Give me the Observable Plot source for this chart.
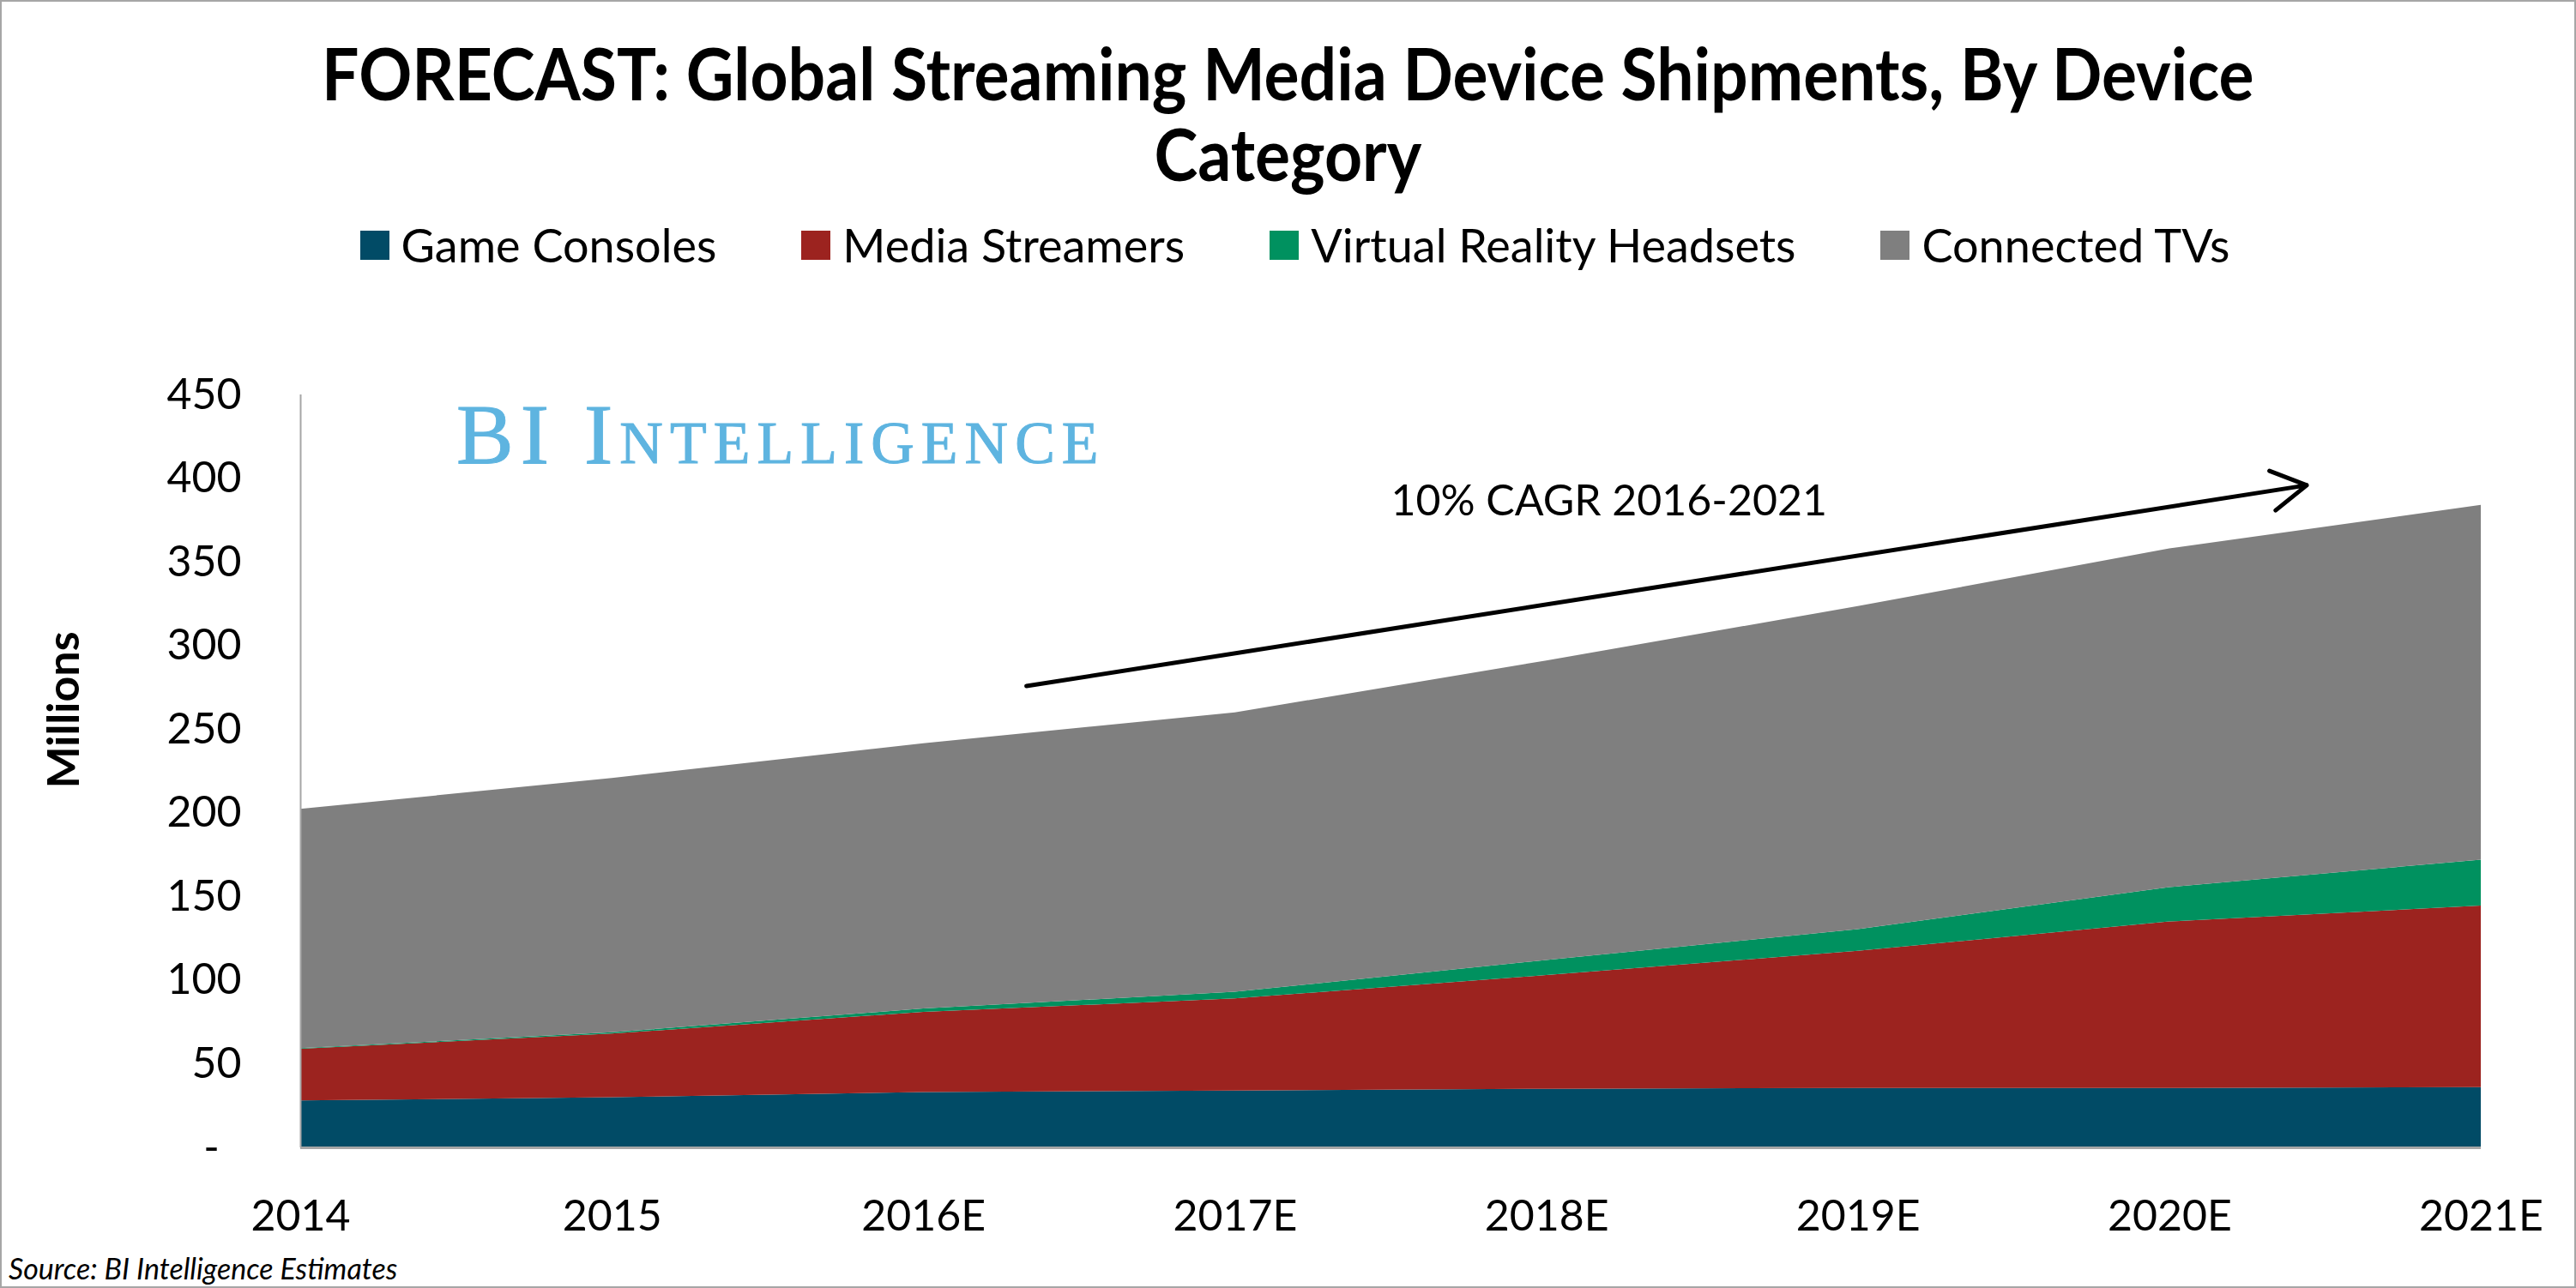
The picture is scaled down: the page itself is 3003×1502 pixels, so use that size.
<!DOCTYPE html>
<html>
<head>
<meta charset="utf-8">
<script src="https://cdn.jsdelivr.net/npm/d3@7"></script>
<script src="https://cdn.jsdelivr.net/npm/@observablehq/plot@0.6"></script>
<style>
  html, body { margin: 0; padding: 0; background: #fff; }
  #chart { position: relative; width: 3003px; height: 1502px; overflow: hidden; background: #fff; font-family: Lato, "Open Sans", sans-serif; }
  #title { position: absolute; top: 38px; left: 0; width: 3003px; text-align: center; font-weight: 700; font-size: 84px; line-height: 94px; color: #000; transform: scaleX(0.915); transform-origin: 1500px 0; }
  #legend { position: absolute; top: 253px; left: 0; width: 3003px; display: flex; justify-content: center; align-items: center; gap: 99px; font-size: 54px; color: #000; padding-left: 16px; box-sizing: border-box; }
  #legend .item { display: flex; align-items: center; gap: 14px; }
  #legend .sw { width: 34px; height: 34px; display: inline-block; }
  #plot { position: absolute; top: 400px; left: 0; }
  #ylabel { position: absolute; left: 72px; top: 828px; transform: translate(-50%, -50%) rotate(-90deg); font-weight: 700; font-size: 52px; white-space: nowrap; }
  #source { position: absolute; left: 10px; top: 1458px; font-style: italic; font-size: 34px; color: #000; }
  #frame { position: absolute; inset: 0; border: 2px solid #a6a6a6; pointer-events: none; }
</style>
</head>
<body>
<div id="chart">
  <div id="title">FORECAST: Global Streaming Media Device Shipments, By Device<br>Category</div>
  <div id="legend"></div>
  <div id="plot"></div>
  <div id="ylabel">Millions</div>
  <div id="source">Source: BI Intelligence Estimates</div>
  <div id="frame"></div>
</div>
<script>
// ---- data ----
const years = ["2014", "2015", "2016E", "2017E", "2018E", "2019E", "2020E", "2021E"];
const seriesNames = ["Game Consoles", "Media Streamers", "Virtual Reality Headsets", "Connected TVs"];
const seriesColors = ["#014b66", "#9c231f", "#00915f", "#7f7f7f"];
const gameConsoles   = [28, 30, 33, 34, 35, 35.5, 35.5, 36];
const mediaStreamers = [31, 38, 48, 55, 68, 82, 99.5, 108.5];
const vrHeadsets     = [0.3, 0.8, 2, 4, 9, 13, 20.5, 27.5];
const connectedTVs   = [143, 152, 158.5, 167, 179, 193, 202.5, 212];
const yTicks = [0, 50, 100, 150, 200, 250, 300, 350, 400, 450];
// annotation (in data units: x = year index, y = millions)
const arrowData = [{x1: 2.33, y1: 276, x2: 6.44, y2: 396}];
const cagrNote = [{x: 4.2, y: 386, text: "10% CAGR 2016-2021"}];
const logoNote = [{x: 0.5, y: 409, text: "BI Intelligence"}];

const seriesValues = [gameConsoles, mediaStreamers, vrHeadsets, connectedTVs];
const rows = [];
seriesNames.forEach((s, si) => {
  years.forEach((yr, i) => rows.push({i, year: yr, series: s, value: seriesValues[si][i]}));
});

// ---- legend ----
const legend = document.getElementById("legend");
seriesNames.forEach((s, i) => {
  const it = document.createElement("div");
  it.className = "item";
  const sw = document.createElement("span");
  sw.className = "sw";
  sw.style.background = seriesColors[i];
  const tx = document.createElement("span");
  tx.textContent = s;
  it.appendChild(sw); it.appendChild(tx);
  legend.appendChild(it);
});

// ---- plot ----
const chart = Plot.plot({
  width: 3003,
  height: 1095,
  marginTop: 60,
  marginBottom: 157,
  marginLeft: 350,
  marginRight: 111,
  style: {fontFamily: "Lato, 'Open Sans', sans-serif", fontSize: "50px", color: "#000", background: "transparent", overflow: "visible"},
  x: {domain: [0, years.length - 1], ticks: d3.range(years.length), tickFormat: i => years[i], tickSize: 0, tickPadding: 61, label: null},
  y: {domain: [0, 450], ticks: yTicks, tickFormat: d => d === 0 ? "-\u00a0\u00a0" : String(d), tickSize: 0, tickPadding: 69, label: null},
  color: {domain: seriesNames, range: seriesColors},
  marks: [
    Plot.areaY(rows, {x: "i", y: "value", z: "series", fill: "series", order: seriesNames, curve: "linear"}),
    Plot.ruleY([0], {stroke: "#a6a6a6", strokeWidth: 3}),
    Plot.ruleX([0], {y1: 0, y2: 450, stroke: "#a6a6a6", strokeWidth: 2}),
    Plot.arrow(arrowData, {x1: "x1", y1: "y1", x2: "x2", y2: "y2", stroke: "#000", strokeWidth: 5, headLength: 14, bend: 0}),
    Plot.text(cagrNote, {x: "x", y: "y", text: "text", fontSize: 50, fill: "#000", textAnchor: "middle"}),
    Plot.text(logoNote, {x: "x", y: "y", text: "text", fontSize: 100, fill: "#5eb4e0", textAnchor: "start", lineAnchor: "bottom", fontFamily: "'Liberation Serif', 'DejaVu Serif', serif", fontVariant: "small-caps"})
  ]
});
document.getElementById("plot").appendChild(chart);
// logo styling: small caps + letter spacing
d3.select(chart).selectAll("text").filter(function() { return this.textContent === "BI Intelligence"; })
  .style("font-variant", "small-caps").style("letter-spacing", "8px").style("stroke", "#5eb4e0").style("stroke-width", "1px");
</script>
</body>
</html>
